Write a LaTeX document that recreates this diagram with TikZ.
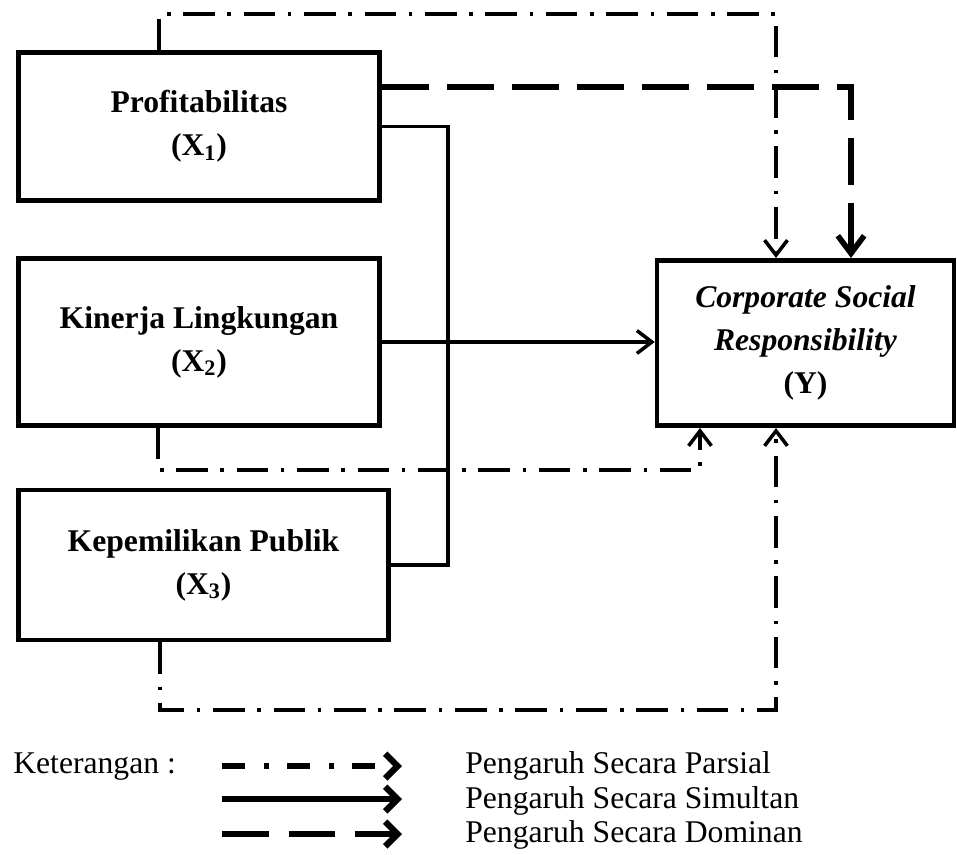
\documentclass[tikz,border=0pt]{standalone}
\usepackage{fontspec}
\setmainfont{Liberation Serif}
\usetikzlibrary{arrows.meta}
\tikzset{
  varbox/.style={draw,line width=2.6pt,align=center,inner sep=0pt,
    font=\fontsize{18}{24.5}\selectfont\bfseries},
  partial/.style={line width=2pt,dash pattern=on 18pt off 7.2pt on 2pt off 7.2pt},
  simul/.style={line width=2pt},
  dominan/.style={line width=3.2pt,dash pattern=on 27pt off 10pt},
  tip/.style={-{Straight Barb[length=8.5pt,width=13pt]}},
  bigtip/.style={-{Straight Barb[length=10pt,width=15pt]}},
  legtip/.style={-{Straight Barb[length=7pt,width=14pt]}},
  legtext/.style={font=\fontsize{18}{20}\selectfont,anchor=base west,inner sep=0pt},
}
\begin{document}
\begin{tikzpicture}[x=0.02cm,y=-0.02cm]
\useasboundingbox (0,0) rectangle (957,855);
%---------------------------------------------------
\node[varbox,minimum width=7.22cm,minimum height=2.96cm] (x1) at (199,126.5)
  {Profitabilitas\\(X\textsubscript{1})};
\node[varbox,minimum width=7.22cm,minimum height=3.34cm] (x2) at (199,342)
  {Kinerja Lingkungan\\(X\textsubscript{2})};
\node[varbox,minimum width=7.40cm,minimum height=3.00cm] (x3) at (203.5,565)
  {Kepemilikan Publik\\(X\textsubscript{3})};
\node[varbox,minimum width=5.94cm,minimum height=3.31cm] (y) at (805.5,343)
  {\textit{Corporate Social}\\\textit{Responsibility}\\(Y)};
%---------------------------------------------------
\coordinate (pa) at (159,14);
\coordinate (pb) at (776,14);
\draw[partial,tip] (x1.north -| pa) -- (pa) -- (pb) -- (y.north -| pb);
\coordinate (da) at (851,87);
\draw[dominan,bigtip] (x1.east |- da) -- (da) -- (y.north -| da);
%---------------------------------------------------
\coordinate (sa) at (448,125);
\draw[simul] (x1.east) -| (sa |- x3.east) -- (x3.east);
\draw[simul,tip] (x2.east) -- (x2.east -| y.west);
%---------------------------------------------------
\coordinate (qa) at (158,470);
\coordinate (qb) at (700,470);
\draw[partial,tip] (x2.south -| qa) -- (qa) -- (qb) -- (y.south -| qb);
\coordinate (ra) at (160,710);
\coordinate (rb) at (776,710);
\draw[partial,tip] (x3.south -| ra) -- (ra) -- (rb) -- (y.south -| rb);
%---------------------------------------------------
\node[legtext] (ket) at (13,773) {Keterangan :};
\coordinate (la) at (222,766);  \coordinate (lb) at (402,766);
\coordinate (lc) at (222,799);  \coordinate (ld) at (402,799);
\coordinate (le) at (222,834);  \coordinate (lf) at (402,834);
\draw[line width=3.6pt,dash pattern=on 13pt off 11pt on 3pt off 10pt,legtip] (la) -- (lb);
\draw[line width=3.6pt,legtip] (lc) -- (ld);
\draw[line width=3.6pt,dash pattern=on 26.6pt off 11.3pt,legtip] (le) -- (lf);
\node[legtext] (lp) at (465,773) {Pengaruh Secara Parsial};
\node[legtext] (ls) at (465,808) {Pengaruh Secara Simultan};
\node[legtext] (ldm) at (465,842) {Pengaruh Secara Dominan};
\end{tikzpicture}
\end{document}
